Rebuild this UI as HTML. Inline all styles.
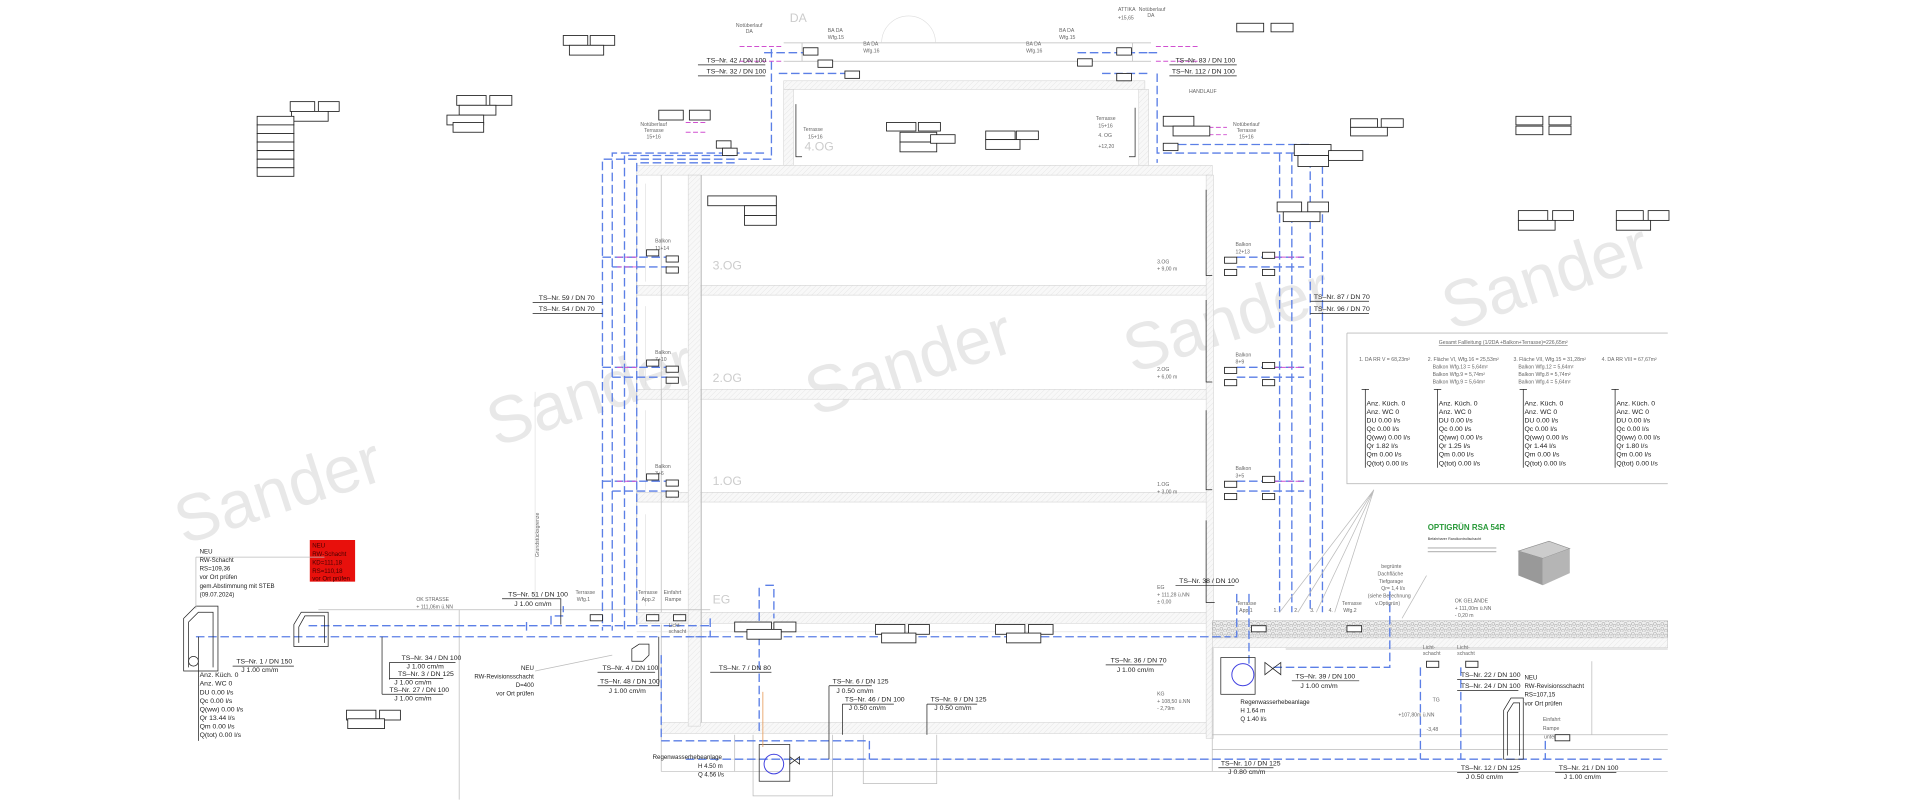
<!DOCTYPE html>
<html><head><meta charset="utf-8"><style>
html,body{margin:0;padding:0;background:#fff;}
svg{display:block;}
text{font-family:"Liberation Sans",sans-serif;}
.t{font-size:5px;fill:#444;}
.s{font-size:4.2px;fill:#666;}
.ts{font-size:5.6px;fill:#222;font-family:"Liberation Sans Narrow","Liberation Sans",sans-serif;}
.fl{font-size:10px;fill:#ccc;}
.wm{font-size:54px;fill:#e8e8e8;}
.b{stroke:#5b7fe6;stroke-width:1.1;fill:none;stroke-dasharray:7 3;}
.m{stroke:#d050d0;stroke-width:0.8;stroke-dasharray:4 2;fill:none;}
.k{stroke:#222;stroke-width:0.6;fill:none;}
.g{stroke:#bbb;stroke-width:0.6;fill:none;}
.lg{stroke:#ddd;stroke-width:0.5;fill:none;}
.bx{stroke:#222;stroke-width:0.7;fill:#fff;}
.h{fill:url(#hatch);stroke:#ccc;stroke-width:0.4;}
.gr{fill:url(#grav);stroke:#aaa;stroke-width:0.4;}
</style></head><body>
<svg width="1920" height="800" viewBox="0 0 1568 653.33" xmlns="http://www.w3.org/2000/svg">
<defs>
<pattern id="hatch" width="3" height="3" patternUnits="userSpaceOnUse" patternTransform="rotate(45)"><rect width="3" height="3" fill="#f8f8f8"/><line x1="0" y1="0" x2="0" y2="3" stroke="#ddd" stroke-width="0.5"/></pattern>
<pattern id="grav" width="6" height="4" patternUnits="userSpaceOnUse"><rect width="6" height="4" fill="#eee"/><circle cx="1.5" cy="1.5" r="1.2" fill="none" stroke="#999" stroke-width="0.4"/><circle cx="4.5" cy="3" r="1.2" fill="none" stroke="#999" stroke-width="0.4"/></pattern>
</defs>
<rect width="1568" height="653.33" fill="#fff"/>

<!-- watermarks -->
<text class="wm" transform="translate(150,445) rotate(-18)">Sander</text>
<text class="wm" transform="translate(405,365) rotate(-18)">Sander</text>
<text class="wm" transform="translate(665,340) rotate(-18)">Sander</text>
<text class="wm" transform="translate(925,305) rotate(-18)">Sander</text>
<text class="wm" transform="translate(1185,270) rotate(-18)">Sander</text>

<!-- penthouse -->
<path class="g" d="M640 35 H940 M640 50 H940 M655 35 V50 M925 35 V50"/>
<path class="lg" d="M720 35 A22 22 0 0 1 764 35"/>
<rect class="h" x="640" y="66" width="295" height="7"/>
<rect class="h" x="640" y="73" width="8" height="62"/>
<rect class="h" x="930" y="73" width="8" height="62"/>
<path class="k" d="M650 85 V128 H655 M927 88 V128 H922" stroke="#777" stroke-width="1.2"/>
<!-- floor slabs -->
<rect class="h" x="520" y="135" width="470" height="8"/>
<rect class="h" x="520" y="233" width="470" height="8"/>
<rect class="h" x="520" y="318" width="470" height="8"/>
<rect class="h" x="520" y="402" width="470" height="8"/>
<rect class="h" x="520" y="500" width="470" height="9"/>
<rect class="h" x="540" y="590" width="450" height="9"/>
<rect class="h" x="562" y="143" width="10" height="450"/>
<rect class="h" x="985" y="143" width="6" height="460"/>
<path class="g" d="M520 143 V500 M540 143 V500 M573 143 V590 M540 510 V630 M540 630 H990 M990 600 V630"/>
<path class="lg" d="M527 150 V230 M527 250 V315 M527 335 V400 M527 420 V495 M520 516 H985 M560 620 H990"/>
<path class="k" d="M985 155 V225 H990 M985 245 V312 H990 M985 335 V400 H990 M985 425 V492 H992" stroke="#777" stroke-width="1.1"/>
<!-- ground right -->
<rect class="gr" x="990" y="507" width="372" height="14"/>
<rect class="h" x="990" y="521" width="372" height="8"/>
<path class="g" d="M990 529 V600 M1050 530 H1362 M990 600 H1362 M990 612 H1362 M990 630 H1362 M1300 540 V600"/>
<path class="g" d="M260 498 H540 M375 498 V653 M540 498 H580"/>
<path class="lg" d="M437 320 V490"/>
<text class="s" transform="translate(440,455) rotate(-90)">Grundstücksgrenze</text>
<path class="g" d="M615 600 V650 H680 V600 M705 600 V640 H765 V600 M600 600 V630"/>

<text class="fl" x="657" y="123">4.OG</text>
<text class="fl" x="582" y="220">3.OG</text>
<text class="fl" x="582" y="312">2.OG</text>
<text class="fl" x="582" y="396">1.OG</text>
<text class="fl" x="582" y="493">EG</text>
<text class="fl" x="645" y="18">DA</text>

<!-- blue pipes left -->
<path class="b" d="M630 40 V130 M624 43 H665 M636 60 H690 M630 130 H492 V515 M624 125 H500 V515 M600 127 H510 V515 M600 133 H520 V510"/>
<path class="b" d="M492 210 H545 M500 218 H545 M492 300 H545 M500 308 H545 M492 393 H545 M500 401 H545"/>
<path class="b" d="M160 520 H1000 M252 511 H580 M450 510 V503 H460 V495 M430 515 V505"/>
<path class="b" d="M540 535 V605 H710 V620 M560 620 H1360 M580 505 V520 H560 M620 480 V600 M625 478 H632 V505"/>
<path class="b" d="M945 60 V125 H1080 M952 118 H1070 M938 43 H945 M945 130 V133 M1045 125 V500 M1055 125 V500 M1070 130 V500 M1080 125 V500 M900 60 H940 M880 43 H940"/>
<path class="b" d="M1010 210 H1065 M1010 218 H1065 M1010 300 H1065 M1010 308 H1065 M1010 393 H1065 M1010 401 H1065"/>
<path class="b" d="M1010 485 V520 H1000 M1020 485 V545 M1040 545 H1135 V480 M1160 545 V620 M1193 545 V620 M1262 605 V620"/>
<path class="m" d="M604 38 H640 M604 50 H640 M944 38 H980 M944 50 H980 M975 104 H1002 M975 110 H1002 M560 100 H578 M560 108 H578 M504 210 H520 M504 218 H520 M504 300 H520 M504 393 H520 M1040 210 H1065 M1040 300 H1065 M1040 393 H1065"/>

<!-- pumps -->
<rect class="k" x="620" y="608" width="25" height="30"/>
<circle cx="632" cy="624" r="8" fill="none" stroke="#4040e0" stroke-width="0.8"/>
<path d="M645 618 l8 6 v-6 l-8 6z" class="k"/>
<rect class="k" x="997" y="537" width="28" height="30"/>
<circle cx="1015" cy="551" r="9" fill="none" stroke="#4040e0" stroke-width="0.8"/>
<path d="M1033 541 l13 10 v-10 l-13 10z" class="k"/>
<path stroke="#e8a060" stroke-width="0.7" d="M623 565 V610"/>

<!-- shafts -->
<path class="k" d="M150 548 V505 L160 495 H178 V548 Z M154 545 V508 L162 500 H174 V545" />
<circle cx="158" cy="540" r="4" class="k"/>
<path class="k" d="M240 528 V510 L246 500 H268 V528 Z M244 525 V512 L249 503 H265 V525" />
<path class="k" d="M1228 620 V580 L1234 570 H1244 V620 Z M1231 617 V582 L1236 574 H1241 V617" />
<path class="k" d="M516 530 V540 H525 L530 535 V526 H522Z"/>

<!-- red box -->
<rect x="253" y="441" width="37" height="34" fill="#e8100c"/>
<text style="font-size:5px;fill:#400"><tspan x="255" y="447">NEU</tspan><tspan x="255" y="454">RW-Schacht</tspan><tspan x="255" y="461">KD=111,18</tspan><tspan x="255" y="468">RS=110,18</tspan><tspan x="255" y="474">vor Ort prüfen</tspan></text>
<text style="font-size:5px;fill:#222"><tspan x="163" y="452">NEU</tspan><tspan x="163" y="459">RW-Schacht</tspan><tspan x="163" y="466">RS=109,36</tspan><tspan x="163" y="473">vor Ort prüfen</tspan><tspan x="163" y="480">gem.Abstimmung mit STEB</tspan><tspan x="163" y="487">(09.07.2024)</tspan></text>
<path class="g" d="M160 455 V497 M160 455 H265"/>

<text class="ts"><tspan x="163" y="553">Anz. Küch. 0</tspan><tspan x="163" y="560">Anz. WC 0</tspan><tspan x="163" y="567">DU 0.00 l/s</tspan><tspan x="163" y="574">Qc 0.00 l/s</tspan><tspan x="163" y="581">Q(ww) 0.00 l/s</tspan><tspan x="163" y="588">Qr 13.44 l/s</tspan><tspan x="163" y="595">Qm 0.00 l/s</tspan><tspan x="163" y="602">Q(tot) 0.00 l/s</tspan></text>
<path class="k" d="M162 520 V605"/>

<g class="ts">
<text x="577" y="51">TS–Nr. 42 / DN 100</text><text x="577" y="60">TS–Nr. 32 / DN 100</text>
<text x="960" y="51">TS–Nr. 83 / DN 100</text><text x="957" y="60">TS–Nr. 112 / DN 100</text>
<text x="440" y="245">TS–Nr. 59 / DN 70</text><text x="440" y="254">TS–Nr. 54 / DN 70</text>
<text x="1073" y="244">TS–Nr. 87 / DN 70</text><text x="1073" y="254">TS–Nr. 96 / DN 70</text>
<text x="415" y="487">TS–Nr. 51 / DN 100</text><text x="420" y="495">J 1.00 cm/m</text>
<text x="193" y="542">TS–Nr. 1 / DN 150</text><text x="197" y="549">J 1.00 cm/m</text>
<text x="328" y="539">TS–Nr. 34 / DN 100</text><text x="332" y="546">J 1.00 cm/m</text>
<text x="325" y="552">TS–Nr. 3 / DN 125</text><text x="322" y="559">J 1.00 cm/m</text>
<text x="318" y="565">TS–Nr. 27 / DN 100</text><text x="322" y="572">J 1.00 cm/m</text>
<text x="492" y="547">TS–Nr. 4 / DN 100</text><text x="490" y="558">TS–Nr. 48 / DN 100</text><text x="497" y="566">J 1.00 cm/m</text>
<text x="587" y="547">TS–Nr. 7 / DN 80</text>
<text x="907" y="541">TS–Nr. 36 / DN 70</text><text x="912" y="549">J 1.00 cm/m</text>
<text x="963" y="476">TS–Nr. 38 / DN 100</text>
<text x="680" y="558">TS–Nr. 6 / DN 125</text><text x="683" y="566">J 0.50 cm/m</text>
<text x="690" y="573">TS–Nr. 46 / DN 100</text><text x="693" y="580">J 0.50 cm/m</text>
<text x="760" y="573">TS–Nr. 9 / DN 125</text><text x="763" y="580">J 0.50 cm/m</text>
<text x="997" y="625">TS–Nr. 10 / DN 125</text><text x="1003" y="632">J 0.80 cm/m</text>
<text x="1058" y="554">TS–Nr. 39 / DN 100</text><text x="1062" y="562">J 1.00 cm/m</text>
<text x="1193" y="553">TS–Nr. 22 / DN 100</text><text x="1193" y="562">TS–Nr. 24 / DN 100</text>
<text x="1193" y="629">TS–Nr. 12 / DN 125</text><text x="1197" y="636">J 0.50 cm/m</text>
<text x="1273" y="629">TS–Nr. 21 / DN 100</text><text x="1277" y="636">J 1.00 cm/m</text>
</g>
<path class="k" d="M570 53 H625 M570 62 H625 M955 53 H1010 M955 62 H1010 M435 247 H492 M435 256 H492 M1070 246 H1118 M1070 256 H1118 M410 489 H458 V510 M190 544 H240 M318 541 H372 M318 554 H362 M312 567 H362 M318 541 V555 M312 567 V520 M488 549 H535 M488 560 H538 V520 M580 549 H630 M903 543 H950 M960 478 H1008 M677 560 H712 M677 560 V620 M688 575 H730 M688 575 V600 M757 575 H798 M757 575 V600 M995 627 H1040 M1055 556 H1110 M1190 555 H1240 M1190 564 H1240 M1190 631 H1240 M1270 631 H1320"/>

<g class="s">
<text x="913" y="9">ATTIKA</text><text x="913" y="16">+15,65</text>
<text x="930" y="9">Notüberlauf</text><text x="937" y="14">DA</text>
<text x="601" y="22">Notüberlauf</text><text x="609" y="27">DA</text>
<text x="676" y="26">BA DA</text><text x="676" y="32">Wfg.15</text>
<text x="705" y="37">BA DA</text><text x="705" y="43">Wfg.16</text>
<text x="865" y="26">BA DA</text><text x="865" y="32">Wfg.15</text>
<text x="838" y="37">BA DA</text><text x="838" y="43">Wfg.16</text>
<text x="971" y="76">HANDLAUF</text>
<text x="656" y="107">Terrasse</text><text x="660" y="113">15+16</text>
<text x="895" y="98">Terrasse</text><text x="897" y="104">15+16</text><text x="897" y="112">4. OG</text><text x="897" y="121">+12,20</text>
<text x="523" y="103">Notüberlauf</text><text x="526" y="108">Terrasse</text><text x="528" y="113">15+16</text>
<text x="1007" y="103">Notüberlauf</text><text x="1010" y="108">Terrasse</text><text x="1012" y="113">15+16</text>
<text x="535" y="198">Balkon</text><text x="535" y="204">11+14</text>
<text x="535" y="289">Balkon</text><text x="535" y="295">7+10</text>
<text x="535" y="382">Balkon</text><text x="535" y="388">3+6</text>
<text x="1009" y="201">Balkon</text><text x="1009" y="207">12+13</text>
<text x="1009" y="291">Balkon</text><text x="1009" y="297">8+9</text>
<text x="1009" y="384">Balkon</text><text x="1009" y="390">3+5</text>
<text x="945" y="215">3.OG</text><text x="945" y="221">+ 9,00 m</text>
<text x="945" y="303">2.OG</text><text x="945" y="309">+ 6,00 m</text>
<text x="945" y="397">1.OG</text><text x="945" y="403">+ 3,00 m</text>
<text x="945" y="481">EG</text><text x="945" y="487">+ 111,28 ü.NN</text><text x="945" y="493">± 0,00</text>
<text x="945" y="568">KG</text><text x="945" y="574">+ 108,50 ü.NN</text><text x="945" y="580">- 2,79m</text>
<text x="470" y="485">Terrasse</text><text x="471" y="491">Wfg.1</text>
<text x="521" y="485">Terrasse</text><text x="524" y="491">App.2</text>
<text x="542" y="485">Einfahrt</text><text x="543" y="491">Rampe</text>
<text x="546" y="512">Licht-</text><text x="546" y="517">schacht</text>
<text x="340" y="491">OK STRASSE</text><text x="340" y="497">+ 111,06m ü.NN</text>
<text x="1010" y="494">Terrasse</text><text x="1012" y="500">App.1</text>
<text x="1096" y="494">Terrasse</text><text x="1097" y="500">Wfg.2</text>
<text x="1128" y="464">begrünte</text><text x="1125" y="470">Dachfläche</text><text x="1126" y="476">Tiefgarage</text><text x="1128" y="482">Qr= 1,4 l/s</text><text x="1117" y="488">(siehe Berechnung</text><text x="1123" y="494">v.Optigrün)</text>
<text x="1188" y="492">OK GELÄNDE</text><text x="1188" y="498">+ 111,00m ü.NN</text><text x="1188" y="504">- 0,20 m</text>
<text x="1162" y="530">Licht-</text><text x="1162" y="535">schacht</text>
<text x="1190" y="530">Licht-</text><text x="1190" y="535">schacht</text>
<text x="1170" y="573">TG</text><text x="1142" y="585">+107,80m ü.NN</text><text x="1165" y="597">-3,48</text>
<text x="1260" y="589">Einfahrt</text><text x="1260" y="596">Rampe</text><text x="1261" y="603">unten</text>
<text x="1040" y="500">1.</text><text x="1057" y="500">2.</text><text x="1070" y="500">3.</text><text x="1085" y="500">4.</text>
</g>
<g style="font-size:5px;fill:#222">
<text><tspan x="436" y="547" text-anchor="end">NEU</tspan><tspan x="436" y="554" text-anchor="end">RW-Revisionsschacht</tspan><tspan x="436" y="561" text-anchor="end">D=400</tspan><tspan x="436" y="568" text-anchor="end">vor Ort prüfen</tspan></text>
<text x="533" y="620">Regenwasserhebeanlage</text><text x="570" y="627">H 4.50 m</text><text x="570" y="634">Q 4.56 l/s</text>
<text x="1013" y="575">Regenwasserhebeanlage</text><text x="1013" y="582">H 1.64 m</text><text x="1013" y="589">Q 1.40 l/s</text>
<text x="1245" y="555">NEU</text><text x="1245" y="562">RW-Revisionsschacht</text><text x="1245" y="569">RS=107,15</text><text x="1245" y="576">vor Ort prüfen</text>
</g>
<path class="g" d="M1122 400 L1090 500 M1122 400 L1060 500 M1122 400 L1075 500 M1122 400 L1045 500 M1145 505 L1165 470 M437 548 L500 535"/>

<text x="1166" y="433" font-size="6.5" font-weight="bold" fill="#2a9a3a">OPTIGRÜN RSA 54R</text>
<text x="1166" y="441" font-size="3" fill="#333">Befahrbarer Randkontrollschacht</text>
<rect x="1166" y="447" width="56" height="1" fill="#bbb"/><rect x="1166" y="450" width="56" height="1" fill="#bbb"/>
<path d="M1240 450 L1265 442 L1282 448 L1260 456 Z" fill="#ccc" stroke="#888" stroke-width="0.5"/>
<path d="M1240 450 V470 L1260 478 V456 Z" fill="#999"/>
<path d="M1260 456 L1282 448 V468 L1260 478Z" fill="#b5b5b5"/>

<path d="M1100 272 H1362 M1100 272 V395 H1362" stroke="#bbb" stroke-width="0.7" fill="none"/>
<text class="s" x="1175" y="281" text-decoration="underline">Gesamt Fallleitung (1/2DA +Balkon+Terrasse)=226,65m²</text>
<g class="s">
<text x="1110" y="295">1. DA RR V = 68,23m²</text>
<text x="1166" y="295">2. Fläche VI, Wfg.16 = 25,53m²</text><text x="1170" y="301">Balkon Wfg.13 = 5,64m²</text><text x="1170" y="307">Balkon Wfg.9 = 5,74m²</text><text x="1170" y="313">Balkon Wfg.9 = 5,64m²</text>
<text x="1236" y="295">3. Fläche VII, Wfg.15 = 31,28m²</text><text x="1240" y="301">Balkon Wfg.12 = 5,64m²</text><text x="1240" y="307">Balkon Wfg.8 = 5,74m²</text><text x="1240" y="313">Balkon Wfg.4 = 5,64m²</text>
<text x="1308" y="295">4. DA RR VIII = 67,67m²</text>
</g>
<g class="ts" font-size="5.2">
<text><tspan x="1116" y="331">Anz. Küch. 0</tspan><tspan x="1116" y="338">Anz. WC 0</tspan><tspan x="1116" y="345">DU 0.00 l/s</tspan><tspan x="1116" y="352">Qc 0.00 l/s</tspan><tspan x="1116" y="359">Q(ww) 0.00 l/s</tspan><tspan x="1116" y="366">Qr 1.82 l/s</tspan><tspan x="1116" y="373">Qm 0.00 l/s</tspan><tspan x="1116" y="380">Q(tot) 0.00 l/s</tspan></text>
<text><tspan x="1175" y="331">Anz. Küch. 0</tspan><tspan x="1175" y="338">Anz. WC 0</tspan><tspan x="1175" y="345">DU 0.00 l/s</tspan><tspan x="1175" y="352">Qc 0.00 l/s</tspan><tspan x="1175" y="359">Q(ww) 0.00 l/s</tspan><tspan x="1175" y="366">Qr 1.25 l/s</tspan><tspan x="1175" y="373">Qm 0.00 l/s</tspan><tspan x="1175" y="380">Q(tot) 0.00 l/s</tspan></text>
<text><tspan x="1245" y="331">Anz. Küch. 0</tspan><tspan x="1245" y="338">Anz. WC 0</tspan><tspan x="1245" y="345">DU 0.00 l/s</tspan><tspan x="1245" y="352">Qc 0.00 l/s</tspan><tspan x="1245" y="359">Q(ww) 0.00 l/s</tspan><tspan x="1245" y="366">Qr 1.44 l/s</tspan><tspan x="1245" y="373">Qm 0.00 l/s</tspan><tspan x="1245" y="380">Q(tot) 0.00 l/s</tspan></text>
<text><tspan x="1320" y="331">Anz. Küch. 0</tspan><tspan x="1320" y="338">Anz. WC 0</tspan><tspan x="1320" y="345">DU 0.00 l/s</tspan><tspan x="1320" y="352">Qc 0.00 l/s</tspan><tspan x="1320" y="359">Q(ww) 0.00 l/s</tspan><tspan x="1320" y="366">Qr 1.80 l/s</tspan><tspan x="1320" y="373">Qm 0.00 l/s</tspan><tspan x="1320" y="380">Q(tot) 0.00 l/s</tspan></text>
</g>
<path class="k" d="M1115 318 V382 M1174 318 V382 M1244 318 V382 M1319 318 V382 M1112 318 H1118 M1171 318 H1177 M1241 318 H1247 M1316 318 H1322"/>

<g class="bx">
<rect x="460" y="29" width="20" height="8"/><rect x="482" y="29" width="20" height="8"/><rect x="465" y="37" width="28" height="8"/>
<rect x="1010" y="19" width="22" height="7"/><rect x="1038" y="19" width="18" height="7"/>
<rect x="237" y="83" width="20" height="8"/><rect x="260" y="83" width="17" height="8"/><rect x="238" y="91" width="30" height="8"/>
<rect x="210" y="95" width="30" height="7"/><rect x="210" y="102" width="30" height="7"/><rect x="210" y="109" width="30" height="7"/><rect x="210" y="116" width="30" height="7"/><rect x="210" y="123" width="30" height="7"/><rect x="210" y="130" width="30" height="7"/><rect x="210" y="137" width="30" height="7"/>
<rect x="373" y="78" width="24" height="8"/><rect x="400" y="78" width="18" height="8"/><rect x="375" y="86" width="30" height="8"/><rect x="365" y="94" width="30" height="8"/><rect x="370" y="100" width="25" height="8"/>
<rect x="538" y="90" width="20" height="8"/><rect x="563" y="90" width="17" height="8"/>
<rect x="724" y="100" width="24" height="7"/><rect x="750" y="100" width="18" height="7"/><rect x="735" y="108" width="30" height="8"/><rect x="735" y="116" width="30" height="8"/><rect x="760" y="110" width="20" height="7"/>
<rect x="805" y="107" width="24" height="7"/><rect x="830" y="107" width="18" height="7"/><rect x="805" y="114" width="28" height="8"/>
<rect x="950" y="95" width="25" height="8"/><rect x="958" y="103" width="30" height="8"/>
<rect x="1103" y="97" width="22" height="7"/><rect x="1128" y="97" width="18" height="7"/><rect x="1103" y="104" width="30" height="7"/>
<rect x="1238" y="95" width="22" height="7"/><rect x="1265" y="95" width="18" height="7"/><rect x="1238" y="103" width="22" height="7"/><rect x="1265" y="103" width="18" height="7"/>
<rect x="1057" y="118" width="30" height="9"/><rect x="1060" y="127" width="25" height="9"/><rect x="1085" y="123" width="28" height="8"/>
<rect x="1043" y="165" width="20" height="8"/><rect x="1068" y="165" width="17" height="8"/><rect x="1048" y="173" width="30" height="8"/>
<rect x="578" y="160" width="56" height="8"/><rect x="608" y="168" width="26" height="8"/><rect x="608" y="176" width="26" height="8"/>
<rect x="1240" y="172" width="24" height="8"/><rect x="1268" y="172" width="17" height="8"/><rect x="1240" y="180" width="30" height="8"/>
<rect x="1320" y="172" width="22" height="8"/><rect x="1346" y="172" width="17" height="8"/><rect x="1320" y="180" width="28" height="8"/>
<rect x="600" y="508" width="30" height="8"/><rect x="632" y="508" width="18" height="8"/><rect x="610" y="514" width="28" height="8"/>
<rect x="715" y="510" width="24" height="8"/><rect x="742" y="510" width="17" height="8"/><rect x="720" y="517" width="28" height="8"/>
<rect x="813" y="510" width="24" height="8"/><rect x="840" y="510" width="20" height="8"/><rect x="822" y="517" width="28" height="8"/>
<rect x="283" y="580" width="24" height="8"/><rect x="310" y="580" width="17" height="8"/><rect x="284" y="587" width="30" height="8"/>
<rect x="656" y="39" width="12" height="6"/><rect x="668" y="49" width="12" height="6"/><rect x="690" y="58" width="12" height="6"/>
<rect x="912" y="39" width="12" height="6"/><rect x="880" y="48" width="12" height="6"/><rect x="912" y="60" width="12" height="6"/>
<rect x="585" y="115" width="12" height="6"/><rect x="590" y="121" width="12" height="6"/><rect x="950" y="117" width="12" height="6"/>
<rect x="528" y="204" width="10" height="5"/><rect x="544" y="209" width="10" height="5"/><rect x="544" y="218" width="10" height="5"/>
<rect x="528" y="294" width="10" height="5"/><rect x="544" y="299" width="10" height="5"/><rect x="544" y="308" width="10" height="5"/>
<rect x="528" y="387" width="10" height="5"/><rect x="544" y="392" width="10" height="5"/><rect x="544" y="401" width="10" height="5"/>
<rect x="1031" y="206" width="10" height="5"/><rect x="1000" y="210" width="10" height="5"/><rect x="1000" y="220" width="10" height="5"/><rect x="1031" y="220" width="10" height="5"/>
<rect x="1031" y="296" width="10" height="5"/><rect x="1000" y="300" width="10" height="5"/><rect x="1000" y="310" width="10" height="5"/><rect x="1031" y="310" width="10" height="5"/>
<rect x="1031" y="389" width="10" height="5"/><rect x="1000" y="393" width="10" height="5"/><rect x="1000" y="403" width="10" height="5"/><rect x="1031" y="403" width="10" height="5"/>
<rect x="482" y="502" width="10" height="5"/><rect x="528" y="502" width="10" height="5"/><rect x="550" y="502" width="10" height="5"/>
<rect x="1022" y="511" width="12" height="5"/><rect x="1100" y="511" width="12" height="5"/><rect x="1165" y="540" width="10" height="5"/><rect x="1197" y="540" width="10" height="5"/><rect x="1270" y="600" width="12" height="5"/>
</g>
</svg>
</body></html>
